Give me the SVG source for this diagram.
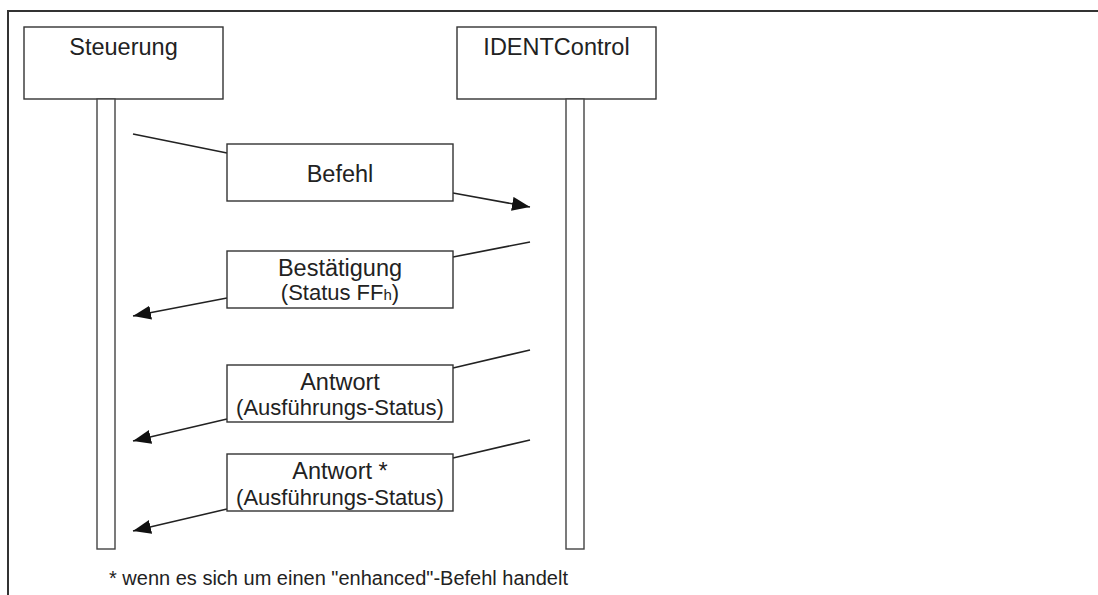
<svg xmlns="http://www.w3.org/2000/svg" width="1098" height="595" viewBox="0 0 1098 595">
<style>
.box{fill:#fff;stroke:#333;stroke-width:1.4}
.life{fill:#fff;stroke:#444;stroke-width:1.4}
.frame{fill:none;stroke:#333;stroke-width:2}
.con{fill:none;stroke:#222;stroke-width:1.6}
.t{font-family:"Liberation Sans",Arial,sans-serif;fill:#222;text-anchor:middle}
.m{font-size:23.5px}
.s{font-size:22px}
.f{font-family:"Liberation Sans",Arial,sans-serif;fill:#222;font-size:20px}
</style>
<defs>
<marker id="ah" markerUnits="userSpaceOnUse" markerWidth="20" markerHeight="16" refX="18" refY="7" orient="auto" viewBox="0 0 20 16">
<path d="M0,0 L18,7 L0,14 z" fill="#111"/>
</marker>
</defs>
<path class="frame" d="M8,595 L8,11 L1098,11"/>
<g id="steuerung">
<rect class="box" x="24" y="27" width="199" height="72"/>
<text class="t m" x="123.5" y="55">Steuerung</text>
<rect class="life" x="97" y="99" width="18" height="450"/>
</g>
<g id="identcontrol">
<rect class="box" x="457" y="27" width="199" height="72"/>
<text class="t m" x="556.5" y="55">IDENTControl</text>
<rect class="life" x="566" y="99" width="18" height="450"/>
</g>
<g id="connectors">
<line class="con" x1="133" y1="134" x2="227" y2="153"/>
<line class="con" x1="453" y1="193" x2="530" y2="207" marker-end="url(#ah)"/>
<line class="con" x1="530" y1="242" x2="453" y2="257"/>
<line class="con" x1="227" y1="298" x2="133" y2="316" marker-end="url(#ah)"/>
<line class="con" x1="530" y1="350" x2="453" y2="368"/>
<line class="con" x1="227" y1="419" x2="133" y2="441" marker-end="url(#ah)"/>
<line class="con" x1="530" y1="440" x2="453" y2="458"/>
<line class="con" x1="227" y1="509" x2="133" y2="531" marker-end="url(#ah)"/>
</g>
<g id="befehl">
<rect class="box" x="227" y="144" width="226" height="57"/>
<text class="t m" x="340" y="182">Befehl</text>
</g>
<g id="bestaetigung">
<rect class="box" x="227" y="251" width="226" height="57"/>
<text class="t m" x="340" y="276">Bestätigung</text>
<text class="t s" x="340" y="300">(Status FF<tspan font-size="15px">h</tspan>)</text>
</g>
<g id="antwort">
<rect class="box" x="227" y="365" width="226" height="57"/>
<text class="t m" x="340" y="390">Antwort</text>
<text class="t s" x="340" y="415">(Ausführungs-Status)</text>
</g>
<g id="antwort2">
<rect class="box" x="227" y="454" width="226" height="57"/>
<text class="t m" x="340" y="479">Antwort *</text>
<text class="t s" x="340" y="505">(Ausführungs-Status)</text>
</g>
<text class="f" x="109" y="585">* wenn es sich um einen "enhanced"-Befehl handelt</text>
</svg>
